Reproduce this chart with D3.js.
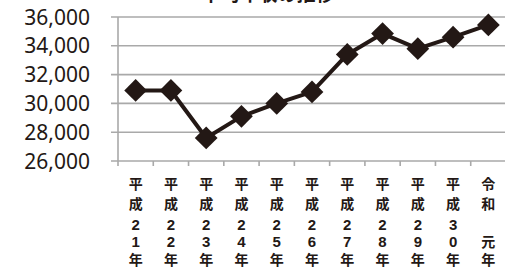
<!DOCTYPE html>
<html>
<head>
<meta charset="utf-8">
<script src="https://cdn.jsdelivr.net/npm/d3@7"></script>
<style>
  html, body { margin: 0; padding: 0; background: #fff; overflow: hidden; }
  svg { display: block; }
</style>
</head>
<body>
<script>
// data
const years = ["平成21年", "平成22年", "平成23年", "平成24年", "平成25年", "平成26年",
  "平成27年", "平成28年", "平成29年", "平成30年", "令和 元年"];
const values = [30900, 30900, 27600, 29100, 30000, 30800, 33400, 34850, 33800, 34600, 35450];
const yTicks = [26000, 28000, 30000, 32000, 34000, 36000];
const title = "平均年収の推移";

const width = 505, height = 272;
const svg = d3.select("body").append("svg")
  .attr("width", width)
  .attr("height", height);

const x = d3.scaleBand().domain(years).range([118, 506]);
const y = d3.scaleLinear().domain([26000, 36000]).range([161, 17]);

const grey = "#a9a9a9";
const ink = "#231815";

// title (cut off at the top, like the source)
svg.append("text")
  .attr("x", 268).attr("y", 1)
  .attr("text-anchor", "middle")
  .style("font-family", "'Noto Sans CJK JP'")
  .style("font-weight", "bold")
  .style("font-size", "19px")
  .attr("fill", ink)
  .text(title);

// gridlines
svg.append("g").selectAll("line")
  .data(yTicks)
  .join("line")
  .attr("x1", 111).attr("x2", 506)
  .attr("y1", d => y(d)).attr("y2", d => y(d))
  .attr("stroke", grey).attr("stroke-width", 1.6);

// left axis line
svg.append("line")
  .attr("x1", 118).attr("x2", 118)
  .attr("y1", y(36000)).attr("y2", y(26000))
  .attr("stroke", grey).attr("stroke-width", 1.6);

// bottom ticks
svg.append("g").selectAll("line")
  .data(years.concat(["end"]))
  .join("line")
  .attr("x1", (d, i) => 118 + i * x.bandwidth())
  .attr("x2", (d, i) => 118 + i * x.bandwidth())
  .attr("y1", y(26000)).attr("y2", y(26000) + 5)
  .attr("stroke", grey).attr("stroke-width", 1.6);

// y labels
svg.append("g").selectAll("text")
  .data(yTicks)
  .join("text")
  .attr("x", 90)
  .attr("y", d => y(d))
  .attr("dy", "0.36em")
  .attr("text-anchor", "end")
  .style("font-family", "'Noto Sans'")
  .style("font-size", "21px")
  .attr("fill", ink)
  .text(d => d3.format(",")(d));

// x labels, one char per row (a space leaves its row empty)
const rows = [184, 204, 225, 242, 260];
const isDigit = c => /[0-9]/.test(c);
const lab = svg.append("g").selectAll("text")
  .data(years)
  .join("text")
  .attr("transform", d => "translate(" + (x(d) + x.bandwidth() / 2) + ",0)")
  .attr("text-anchor", "middle")
  .style("font-weight", "bold")
  .attr("fill", ink);
lab.selectAll("tspan")
  .data(d => d.split("").map((c, i) => ({c: c, row: i})).filter(o => o.c !== " "))
  .join("tspan")
  .attr("x", 0)
  .attr("y", o => rows[o.row])
  .attr("dy", "0.36em")
  .style("font-family", o => isDigit(o.c) ? "'Liberation Sans', Arial, sans-serif" : "'Noto Sans CJK JP'")
  .style("font-size", o => isDigit(o.c) ? "15px" : "14px")
  .style("font-weight", "700")
  .text(o => o.c);

// line
const line = d3.line()
  .x((d, i) => x(years[i]) + x.bandwidth() / 2)
  .y(d => y(d));
svg.append("path")
  .datum(values)
  .attr("d", line)
  .attr("fill", "none")
  .attr("stroke", ink)
  .attr("stroke-width", 4)
  .attr("stroke-linejoin", "round");

// markers
svg.append("g").selectAll("path")
  .data(values)
  .join("path")
  .attr("transform", (d, i) => "translate(" + (x(years[i]) + x.bandwidth() / 2) + "," + y(d) + ")")
  .attr("d", d3.symbol().type(d3.symbolDiamond2).size(330))
  .attr("fill", ink);
</script>
</body>
</html>
